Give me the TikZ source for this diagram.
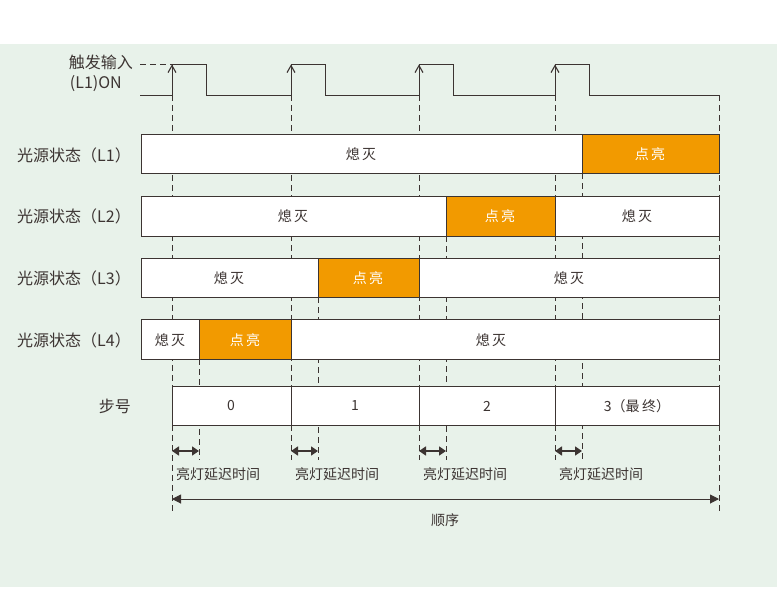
\documentclass[tikz,border=0pt]{standalone}
\usepackage{fontspec}
\setmainfont{Noto Sans CJK SC}
\usetikzlibrary{arrows.meta}
\definecolor{bggreen}{RGB}{232,242,234}
\definecolor{litorange}{RGB}{242,154,0}
\definecolor{inkgray}{RGB}{60,52,50}
\tikzset{
  offbox/.style={draw=inkgray,line width=0.9pt,fill=white},
  onbox/.style={draw=inkgray,line width=0.9pt,fill=litorange},
  guide/.style={draw=inkgray,line width=0.9pt,dash pattern=on 6pt off 4pt},
  rowlabel/.style={anchor=east,inner sep=0pt,font=\fontsize{16}{18}\selectfont,text=inkgray},
  celltext/.style={inner sep=0pt,font=\fontsize{14}{16}\selectfont,text=inkgray},
  ontext/.style={inner sep=0pt,font=\fontsize{14}{16}\selectfont,text=white},
}
\begin{document}
\begin{tikzpicture}[x=1pt,y=-1pt]
\useasboundingbox (0,0) rectangle (777,611);
\fill[bggreen] (0,44) rectangle (777,587);

% dashed guides
\foreach \gx in {291,419,555} \draw[guide] (\gx,95) -- (\gx,460);
\draw[guide] (172,95) -- (172,512);
\draw[guide] (719,95) -- (719,514);
\draw[guide] (582,173) -- (582,460);
\draw[guide] (446,236) -- (446,460);
\draw[guide] (318,297) -- (318,460);
\draw[guide] (199,359) -- (199,460);

% trigger input
\draw[guide] (140,64) -- (172,64);
\draw[inkgray,line width=0.9pt] (140,95) -- (172,95) -- (172,64) -- (206,64) -- (206,95)
  -- (291,95) -- (291,64) -- (325,64) -- (325,95)
  -- (419,95) -- (419,64) -- (453,64) -- (453,95)
  -- (555,95) -- (555,64) -- (589,64) -- (589,95) -- (719,95);
\foreach \gx in {172,291,419,555}
  \draw[inkgray,line width=0.9pt,-{Straight Barb[length=7pt,width=8pt,line width=1.1pt]}] (\gx,85) -- (\gx,64.5);
\node[rowlabel] (trig) at (133,62) {触发输入};
\node[rowlabel] (trigon) at (122,84) {(L1)ON};

% L1
\node[rowlabel] (l1) at (131,155) {光源状态（L1）};
\draw[offbox] (141,134) rectangle (582,173);
\draw[onbox] (582,134) rectangle (719,173);
\node[celltext] (l1a) at (361,154) {熄\,灭};
\node[ontext] (l1b) at (650,154) {点\,亮};
% L2
\node[rowlabel] (l2) at (131,216) {光源状态（L2）};
\draw[offbox] (141,196) rectangle (446,236);
\draw[onbox] (446,196) rectangle (555,236);
\draw[offbox] (555,196) rectangle (719,236);
\node[celltext] (l2a) at (293,216) {熄\,灭};
\node[ontext] (l2b) at (500,216) {点\,亮};
\node[celltext] (l2c) at (637,216) {熄\,灭};
% L3
\node[rowlabel] (l3) at (131,278) {光源状态（L3）};
\draw[offbox] (141,258) rectangle (318,297);
\draw[onbox] (318,258) rectangle (419,297);
\draw[offbox] (419,258) rectangle (719,297);
\node[celltext] (l3a) at (229,278) {熄\,灭};
\node[ontext] (l3b) at (368,278) {点\,亮};
\node[celltext] (l3c) at (569,278) {熄\,灭};
% L4
\node[rowlabel] (l4) at (131,340) {光源状态（L4）};
\draw[offbox] (141,319) rectangle (199,359);
\draw[onbox] (199,319) rectangle (291,359);
\draw[offbox] (291,319) rectangle (719,359);
\node[celltext] (l4a) at (170,340) {熄\,灭};
\node[ontext] (l4b) at (245,340) {点\,亮};
\node[celltext] (l4c) at (491,340) {熄\,灭};

% step numbers
\node[rowlabel] (stp) at (131,406) {步号};
\draw[offbox] (172,386) rectangle (291,425);
\draw[offbox] (291,386) rectangle (419,425);
\draw[offbox] (419,386) rectangle (555,425);
\draw[offbox] (555,386) rectangle (719,425);
\node[celltext] (s0) at (231,406) {0};
\node[celltext] (s1) at (355,406) {1};
\node[celltext] (s2) at (487,406) {2};
\node[celltext] (s3) at (637,406) {3（最\,终）};

% delay arrows
\foreach \ax/\bx in {172/199,291/318,419/446,555/582} {
  \coordinate (da\ax) at (\ax,451);
  \coordinate (db\ax) at (\bx,451);
  \draw[inkgray,line width=1.6pt,{Triangle[length=7pt,width=9pt]}-{Triangle[length=7pt,width=9pt]}] (da\ax) -- (db\ax);
  \node[celltext,anchor=west] at (\ax+4,474) {亮灯延迟时间};
}

% sequence
\coordinate (sqa) at (172,499);
\coordinate (sqb) at (719,499);
\draw[inkgray,line width=1pt,{Triangle[length=9pt,width=9pt]}-{Triangle[length=9pt,width=9pt]}] (sqa) -- (sqb);
\node[celltext] (seq) at (445,520) {顺序};
\end{tikzpicture}
\end{document}
